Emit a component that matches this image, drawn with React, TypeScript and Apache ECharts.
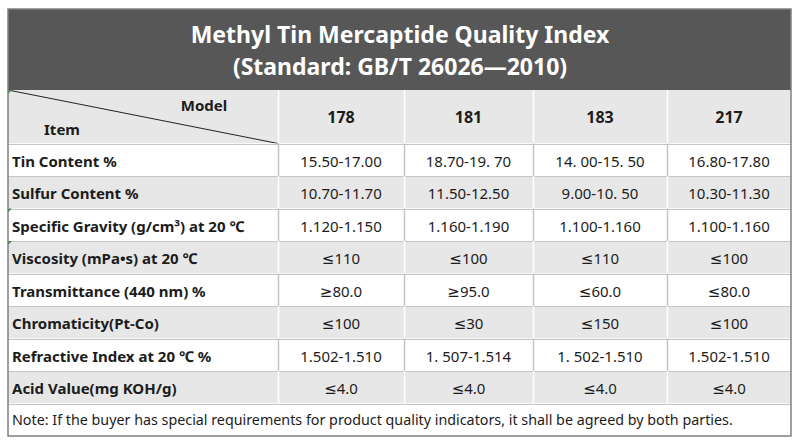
import React, { useEffect, useRef } from "react";
import * as echarts from "echarts";

const titleLines = ["Methyl Tin Mercaptide Quality Index", "(Standard: GB/T 26026—2010)"];
const headerModelLabel = "Model";
const headerItemLabel = "Item";
const models = ["178", "181", "183", "217"];
const items = [
  "Tin Content %",
  "Sulfur Content %",
  "Specific Gravity (g/cm³) at 20 ℃",
  "Viscosity (mPa•s) at 20 ℃",
  "Transmittance (440 nm) %",
  "Chromaticity(Pt-Co)",
  "Refractive Index at 20 ℃ %",
  "Acid Value(mg KOH/g)",
];
const values178 = ["15.50-17.00", "10.70-11.70", "1.120-1.150", "≤110", "≥80.0", "≤100", "1.502-1.510", "≤4.0"];
const values181 = ["18.70-19. 70", "11.50-12.50", "1.160-1.190", "≤100", "≥95.0", "≤30", "1. 507-1.514", "≤4.0"];
const values183 = ["14. 00-15. 50", "9.00-10. 50", "1.100-1.160", "≤110", "≤60.0", "≤150", "1. 502-1.510", "≤4.0"];
const values217 = ["16.80-17.80", "10.30-11.30", "1.100-1.160", "≤100", "≤80.0", "≤100", "1.502-1.510", "≤4.0"];
const noteText =
  "Note: If the buyer has special requirements for product quality indicators, it shall be agreed by both parties.";
const commentFlagRows = [0, 3, 4];

const valueColumns = [values178, values181, values183, values217];

// layout (axis units)
const COL_EDGES = [0, 270, 396, 525, 659, 783];
const ROW_EDGES = [0, 53.5, 86, 118.5, 151, 183.5, 216, 248.5, 281, 313.5, 346];

const FONT = "'Noto Sans', 'DejaVu Sans', 'Noto Sans CJK SC', sans-serif";
const GRAY_FILL = "#e7e7e7";
const LINE = "#c4c4c4";
const TEXT = "#1c1c1c";

export default function App() {
  const ref = useRef<HTMLDivElement>(null);
  useEffect(() => {
    if (!ref.current) return;
    const chart = echarts.init(ref.current, undefined, { renderer: "svg" });

    const cells: number[][] = [];
    for (let r = 0; r <= items.length; r++) {
      for (let c = 0; c <= models.length; c++) cells.push([c, r, 1]);
    }
    cells.push([0, items.length + 1, models.length + 1]);

    const renderItem = (_params: any, api: any) => {
      const col = api.value(0) as number;
      const row = api.value(1) as number;
      const span = api.value(2) as number;
      const p0 = api.coord([COL_EDGES[col], ROW_EDGES[row]]);
      const p1 = api.coord([COL_EDGES[col + span], ROW_EDGES[row + 1]]);
      const x = p0[0], y = p0[1];
      const w = p1[0] - p0[0], h = p1[1] - p0[1];
      const isGray = row === 0 || (row >= 1 && row <= items.length && row % 2 === 0);
      const children: any[] = [];
      children.push({ type: "rect", shape: { x, y, width: w, height: h }, style: { fill: isGray ? GRAY_FILL : "#ffffff" } });
      if (row > 0) {
        const ly = Math.round(y) + 0.5;
        children.push({ type: "line", shape: { x1: x, y1: ly, x2: x + w, y2: ly }, style: { stroke: LINE, lineWidth: 1 } });
      }
      if (col > 0) {
        const lx = Math.round(x) + 0.5;
        children.push({ type: "line", shape: { x1: lx, y1: y, x2: lx, y2: y + h }, style: { stroke: isGray ? "#ffffff" : LINE, lineWidth: 1.5 } });
      }
      if (row === 0 && col === 0) {
        children.push({ type: "line", shape: { x1: x, y1: y, x2: x + w, y2: y + h }, style: { stroke: "#222", lineWidth: 1 } });
        children.push({
          type: "text",
          style: { text: headerModelLabel, x: x + w * 0.726, y: y + h * 0.28, align: "center", verticalAlign: "middle", font: `bold 15px ${FONT}`, fill: TEXT },
        });
        children.push({
          type: "text",
          style: { text: headerItemLabel, x: x + w * 0.2, y: y + h * 0.72, align: "center", verticalAlign: "middle", font: `bold 15px ${FONT}`, fill: TEXT },
        });
      } else if (row === 0) {
        children.push({
          type: "text",
          style: { text: models[col - 1], x: x + w / 2, y: y + h / 2, align: "center", verticalAlign: "middle", font: `bold 16px ${FONT}`, fill: TEXT },
        });
      } else if (row <= items.length && col === 0) {
        children.push({
          type: "text",
          style: { text: items[row - 1], x: x + 4, y: y + h / 2 + 1, align: "left", verticalAlign: "middle", font: `bold 15px ${FONT}`, fill: TEXT },
        });
      } else if (row <= items.length) {
        children.push({
          type: "text",
          style: { text: valueColumns[col - 1][row - 1], x: x + w / 2, y: y + h / 2 + 1, align: "center", verticalAlign: "middle", font: `15px ${FONT}`, fill: TEXT },
        });
      } else {
        children.push({
          type: "text",
          style: { text: noteText, x: x + 4, y: y + h / 2, align: "left", verticalAlign: "middle", font: `14.3px ${FONT}`, fill: TEXT },
        });
      }
      if (col === 0 && commentFlagRows.indexOf(row) >= 0) {
        children.push({ type: "polygon", shape: { points: [[x, y], [x + 4, y], [x, y + 4]] }, style: { fill: "#2f9a3c" } });
      }
      return { type: "group", children };
    };

    chart.setOption({
      animation: false,
      backgroundColor: "#ffffff",
      grid: { left: 8, right: 9, top: 90, bottom: 9 },
      xAxis: { type: "value", min: 0, max: COL_EDGES[COL_EDGES.length - 1], show: false },
      yAxis: { type: "value", min: 0, max: ROW_EDGES[ROW_EDGES.length - 1], inverse: true, show: false },
      graphic: [
        { type: "rect", shape: { x: 8, y: 9, width: 783, height: 81 }, style: { fill: "#575757" }, z: 0 },
        {
          type: "text",
          x: 400,
          y: 34,
          style: { text: titleLines[0], align: "center", verticalAlign: "middle", font: `bold 23px ${FONT}`, fill: "#ffffff" },
          z: 10,
        },
        {
          type: "text",
          x: 400,
          y: 66,
          style: { text: titleLines[1], align: "center", verticalAlign: "middle", font: `bold 23px ${FONT}`, fill: "#ffffff" },
          z: 10,
        },
        {
          type: "rect",
          shape: { x: 8, y: 9, width: 783, height: 427 },
          style: { fill: "none", stroke: "#808080", lineWidth: 1.5 },
          z: 100,
        },
      ],
      series: [
        {
          type: "custom",
          renderItem,
          data: cells,
          encode: { x: 0, y: 1 },
          clip: false,
          silent: true,
        },
      ],
    });
    return () => chart.dispose();
  }, []);
  return (
    <div
      ref={ref}
      style={{ position: "fixed", left: 0, top: 0, width: 800, height: 445, background: "#fff" }}
    />
  );
}
